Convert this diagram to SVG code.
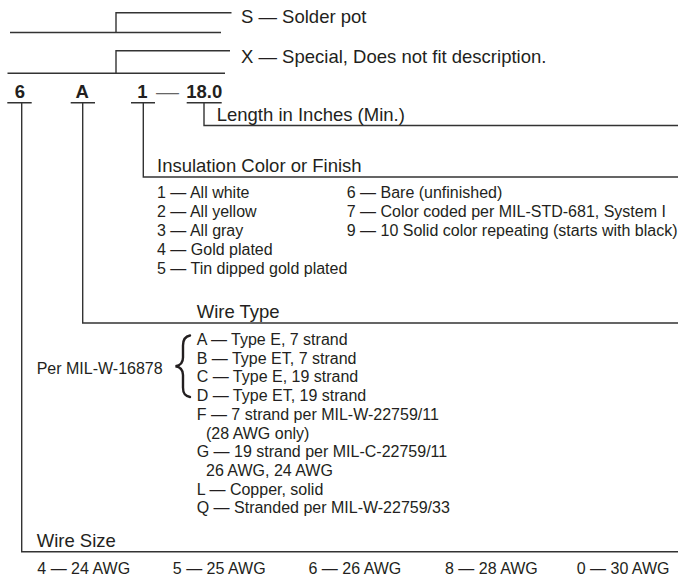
<svg xmlns="http://www.w3.org/2000/svg" width="678" height="577" viewBox="0 0 678 577">
<style>
text{font-family:"Liberation Sans",Arial,Helvetica,sans-serif;fill:#231f20}
.h{font-size:18.5px}
.s{font-size:16px}
.b{font-size:18.5px;font-weight:bold}
.ln{stroke:#333;stroke-width:1.4;fill:none}
</style>
<rect width="678" height="577" fill="#fff"/>
<g id="connectors">
<path class="ln" d="M10,32.5H221M116,32.5V12.7H231.5"/>
<path class="ln" d="M7.5,73.3H225M116,73.3V50.7H230"/>
<path class="ln" d="M7.3,102.7H31.7M70.7,102.7H95M131,102.7H155M186.7,102.7H221.7"/>
<path class="ln" d="M21.7,102.7V551.7H678"/>
<path class="ln" d="M82.7,102.7V323H678"/>
<path class="ln" d="M143.3,102.7V177H678"/>
<path class="ln" d="M204,102.7V125.5H678"/>
</g>
<g id="option-s"><text class="h" x="241" y="22.5">S — Solder pot</text></g>
<g id="option-x"><text class="h" x="241" y="62.5">X — Special, Does not fit description.</text></g>
<g id="code">
<text class="b" x="20" y="98.3" text-anchor="middle">6</text>
<text class="b" x="82.2" y="98.3" text-anchor="middle">A</text>
<text class="b" x="142.5" y="98.3" text-anchor="middle">1</text>
<text class="h" x="156" y="98" textLength="23" lengthAdjust="spacingAndGlyphs" style="fill:#666">—</text>
<text class="b" x="204.2" y="98.3" text-anchor="middle">18.0</text>
</g>
<g id="length"><text class="h" x="216.7" y="121">Length in Inches (Min.)</text></g>
<g id="insulation">
<text class="h" x="157" y="171.5">Insulation Color or Finish</text>
<text class="s" x="157" y="198">1 — All white</text>
<text class="s" x="157" y="217">2 — All yellow</text>
<text class="s" x="157" y="236">3 — All gray</text>
<text class="s" x="157" y="255.2">4 — Gold plated</text>
<text class="s" x="157" y="274.4">5 — Tin dipped gold plated</text>
<text class="s" x="346.7" y="198">6 — Bare (unfinished)</text>
<text class="s" x="346.7" y="217">7 — Color coded per MIL-STD-681, System I</text>
<text class="s" x="346.7" y="236">9 — 10 Solid color repeating (starts with black)</text>
</g>
<g id="wire-type">
<text class="h" x="196.7" y="318.3">Wire Type</text>
<text class="s" x="36.7" y="374">Per MIL-W-16878</text>
<path d="M190,335.5C184.5,336.5 183,340 183,345.5L183,357.5C183,362.5 180.5,365.5 175.5,366.2C180.5,367 183,370 183,375L183,387.5C183,393 184.5,396 190,397" fill="none" stroke="#231f20" stroke-width="2.4" stroke-linecap="round"/>
<text class="s" x="196.7" y="345">A — Type E, 7 strand</text>
<text class="s" x="196.7" y="363.7">B — Type ET, 7 strand</text>
<text class="s" x="196.7" y="382.4">C — Type E, 19 strand</text>
<text class="s" x="196.7" y="401.1">D — Type ET, 19 strand</text>
<text class="s" x="196.7" y="419.8">F — 7 strand per MIL-W-22759/11</text>
<text class="s" x="206" y="438.5">(28 AWG only)</text>
<text class="s" x="196.7" y="457.2">G — 19 strand per MIL-C-22759/11</text>
<text class="s" x="206" y="475.9">26 AWG, 24 AWG</text>
<text class="s" x="196.7" y="494.6">L — Copper, solid</text>
<text class="s" x="196.7" y="513.3">Q — Stranded per MIL-W-22759/33</text>
</g>
<g id="wire-size">
<text class="h" x="36.7" y="546.7">Wire Size</text>
<text class="s" x="37.3" y="573.5">4 — 24 AWG</text>
<text class="s" x="172.8" y="573.5">5 — 25 AWG</text>
<text class="s" x="308.5" y="573.5">6 — 26 AWG</text>
<text class="s" x="445" y="573.5">8 — 28 AWG</text>
<text class="s" x="576.7" y="573.5">0 — 30 AWG</text>
</g>
</svg>
